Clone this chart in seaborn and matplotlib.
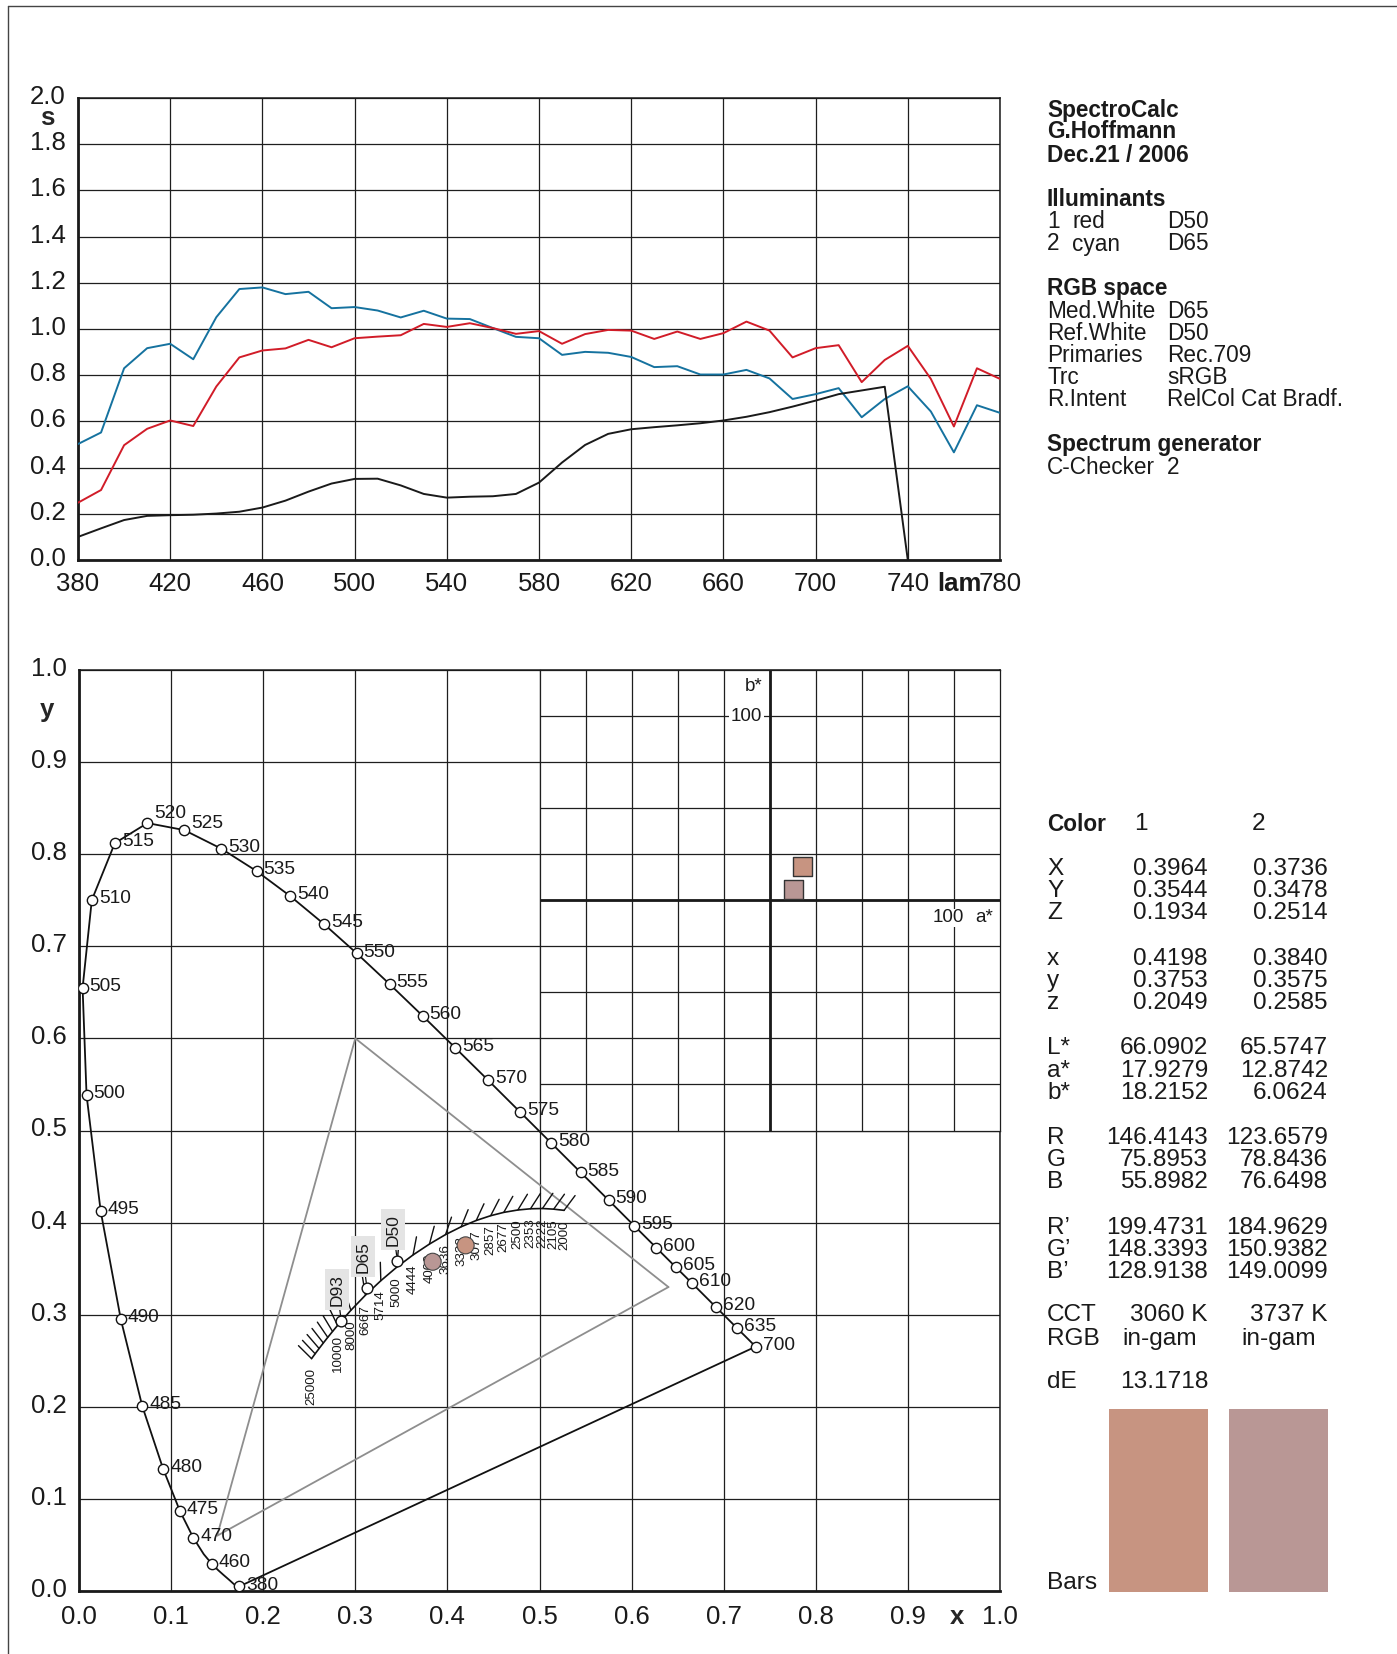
import numpy as np
import pandas as pd
import matplotlib
matplotlib.use("Agg")
import matplotlib.pyplot as plt
from matplotlib.lines import Line2D
from matplotlib.transforms import ScaledTranslation
import seaborn as sns

# ---------------- data ----------------
wavelength = list(range(380, 790, 10))
spec_red = [0.248, 0.303, 0.497, 0.568, 0.604, 0.580, 0.751, 0.877, 0.907, 0.916,
            0.953, 0.921, 0.960, 0.967, 0.973, 1.022, 1.009, 1.025, 1.004, 0.979,
            0.991, 0.936, 0.978, 0.996, 0.993, 0.957, 0.989, 0.957, 0.982, 1.032,
            0.993, 0.877, 0.917, 0.930, 0.770, 0.866, 0.927, 0.784, 0.578, 0.830, 0.784]
spec_cyan = [0.502, 0.552, 0.830, 0.917, 0.936, 0.869, 1.051, 1.173, 1.180, 1.151,
             1.161, 1.090, 1.095, 1.080, 1.050, 1.079, 1.045, 1.043, 1.004, 0.966,
             0.960, 0.888, 0.901, 0.897, 0.879, 0.835, 0.839, 0.803, 0.803, 0.823,
             0.786, 0.697, 0.718, 0.744, 0.618, 0.697, 0.752, 0.643, 0.466, 0.670, 0.637]
spec_black_wl = list(range(380, 750, 10))
spec_black = [0.100, 0.137, 0.173, 0.191, 0.194, 0.196, 0.201, 0.209, 0.227, 0.257,
              0.296, 0.331, 0.351, 0.352, 0.323, 0.286, 0.270, 0.274, 0.276, 0.286,
              0.335, 0.422, 0.498, 0.546, 0.566, 0.575, 0.583, 0.592, 0.604, 0.620,
              0.640, 0.664, 0.690, 0.718, 0.734, 0.750, 0.000]

locus_nm = list(range(380, 705, 5))
locus_x = [0.1741, 0.1740, 0.1738, 0.1736, 0.1733, 0.1730, 0.1726, 0.1721, 0.1714, 0.1703,
           0.1689, 0.1669, 0.1644, 0.1611, 0.1566, 0.1510, 0.1440, 0.1355, 0.1241, 0.1096,
           0.0913, 0.0687, 0.0454, 0.0235, 0.0082, 0.0039, 0.0139, 0.0389, 0.0743, 0.1142,
           0.1547, 0.1929, 0.2296, 0.2658, 0.3016, 0.3373, 0.3731, 0.4087, 0.4441, 0.4788,
           0.5125, 0.5448, 0.5752, 0.6029, 0.6270, 0.6482, 0.6658, 0.6801, 0.6915, 0.7006,
           0.7079, 0.7140, 0.7190, 0.7230, 0.7260, 0.7283, 0.7300, 0.7311, 0.7320, 0.7327,
           0.7334, 0.7340, 0.7344, 0.7346, 0.7347]
locus_y = [0.0050, 0.0050, 0.0049, 0.0049, 0.0048, 0.0048, 0.0048, 0.0048, 0.0051, 0.0058,
           0.0069, 0.0086, 0.0109, 0.0138, 0.0177, 0.0227, 0.0297, 0.0399, 0.0578, 0.0868,
           0.1327, 0.2007, 0.2950, 0.4127, 0.5384, 0.6548, 0.7502, 0.8120, 0.8338, 0.8262,
           0.8059, 0.7816, 0.7543, 0.7243, 0.6923, 0.6589, 0.6245, 0.5896, 0.5547, 0.5202,
           0.4866, 0.4544, 0.4242, 0.3965, 0.3725, 0.3514, 0.3340, 0.3197, 0.3083, 0.2993,
           0.2920, 0.2859, 0.2809, 0.2770, 0.2740, 0.2717, 0.2700, 0.2689, 0.2680, 0.2673,
           0.2666, 0.2660, 0.2656, 0.2654, 0.2653]
locus_labeled = [380, 460, 470, 475, 480, 485, 490, 495, 500, 505, 510, 515, 520, 525,
                 530, 535, 540, 545, 550, 555, 560, 565, 570, 575, 580, 585, 590, 595,
                 600, 605, 610, 620, 635, 700]

planck_T = [25000, 20000, 16667, 14286, 12500, 11111, 10000, 8000, 6667, 5714, 5000,
            4444, 4000, 3636, 3333, 3077, 2857, 2677, 2500, 2353, 2222, 2105, 2000]
planck_x = [0.2525, 0.2564, 0.2607, 0.2653, 0.2701, 0.2753, 0.2807, 0.2952, 0.3110, 0.3277,
            0.3450, 0.3627, 0.3805, 0.3980, 0.4150, 0.4313, 0.4470, 0.4612, 0.4765, 0.4902,
            0.5032, 0.5154, 0.5267]
planck_y = [0.2523, 0.2576, 0.2633, 0.2693, 0.2754, 0.2818, 0.2883, 0.3048, 0.3212, 0.3369,
            0.3516, 0.3649, 0.3767, 0.3870, 0.3955, 0.4023, 0.4075, 0.4111, 0.4137, 0.4150,
            0.4153, 0.4146, 0.4133]
planck_labeled = [25000, 10000, 8000, 6667, 5714, 5000, 4444, 4000, 3636, 3333, 3077,
                  2857, 2677, 2500, 2353, 2222, 2105, 2000]

srgb_x = [0.64, 0.30, 0.15, 0.64]
srgb_y = [0.33, 0.60, 0.06, 0.33]

white_names = ["D93", "D65", "D50"]
white_x = [0.2848, 0.3127, 0.3457]
white_y = [0.2932, 0.3290, 0.3585]

sample_names = ["1", "2"]
sample_x = [0.4198, 0.3840]
sample_y = [0.3753, 0.3575]
sample_a = [17.9279, 12.8742]
sample_b = [18.2152, 6.0624]
sample_R = [199.4731, 184.9629]
sample_G = [148.3393, 150.9382]
sample_B = [128.9138, 149.0099]

table_labels = ["X", "Y", "Z", "x", "y", "z", "L*", "a*", "b*",
                "R", "G", "B", "R\u2019", "G\u2019", "B\u2019"]
table_col1 = ["0.3964", "0.3544", "0.1934", "0.4198", "0.3753", "0.2049",
              "66.0902", "17.9279", "18.2152", "146.4143", "75.8953", "55.8982",
              "199.4731", "148.3393", "128.9138"]
table_col2 = ["0.3736", "0.3478", "0.2514", "0.3840", "0.3575", "0.2585",
              "65.5747", "12.8742", "6.0624", "123.6579", "78.8436", "76.6498",
              "184.9629", "150.9382", "149.0099"]
cct_values = ["3060 K", "3737 K"]
gamut_values = ["in-gam", "in-gam"]
delta_e = "13.1718"

# ---------------- style ----------------
sns.set_theme(style="white")
plt.rcParams["font.family"] = ["Liberation Sans", "DejaVu Sans"]
plt.rcParams["axes.unicode_minus"] = False

W, H = 1397, 1654
def fx(x):
    return x / W
def fy(y):
    return 1 - y / H

fig = plt.figure(figsize=(W / 100, H / 100), dpi=100)
fig.patch.set_facecolor("white")

GRID = "#1e1e1e"
TICK_FS = 18.5
up_shift = ScaledTranslation(0, 3.5 / 100, fig.dpi_scale_trans)

# ---------------- spectral chart ----------------
ax1 = fig.add_axes([fx(78), fy(560), 922 / W, 462 / H])
sns.lineplot(x=wavelength, y=spec_cyan, color="#15729f", lw=1.4, ax=ax1, zorder=3)
sns.lineplot(x=wavelength, y=spec_red, color="#d11c28", lw=1.4, ax=ax1, zorder=3)
sns.lineplot(x=spec_black_wl, y=spec_black, color="#1a1a1a", lw=1.4, ax=ax1, zorder=3)
ax1.set_xlim(380, 780)
ax1.set_ylim(0, 2)
xt = list(range(380, 781, 40))
ax1.set_xticks(xt)
ax1.set_xticklabels([str(v) for v in xt])
yt = np.round(np.arange(0, 2.01, 0.2), 1)
ax1.set_yticks(yt)
ax1.set_yticklabels([f"{v:.1f}" for v in yt])
ax1.grid(True, color=GRID, lw=0.9)
ax1.tick_params(length=0, labelsize=TICK_FS, colors="#1a1a1a")
ax1.tick_params(axis="x", pad=8.5)
ax1.tick_params(axis="y", pad=9)
for lab in ax1.get_yticklabels():
    lab.set_transform(lab.get_transform() + up_shift)
ax1.set_xlabel("")
ax1.set_ylabel("")
for s in ax1.spines.values():
    s.set_color("#1a1a1a")
    s.set_linewidth(1.1)
ax1.spines["bottom"].set_linewidth(2.0)
ax1.spines["left"].set_linewidth(2.0)
fig.text(fx(47), fy(118), "s", fontsize=TICK_FS, fontweight="bold", ha="center", va="center")
fig.text(fx(959), fy(584), "lam", fontsize=TICK_FS, fontweight="bold", ha="center", va="center",
         color="#1a1a1a")

# ---------------- chromaticity chart ----------------
ax2 = fig.add_axes([fx(79), fy(1591), 921 / W, 921 / H])
ax2.set_xlim(0, 1)
ax2.set_ylim(0, 1)
t = np.round(np.arange(0, 1.01, 0.1), 1)
ax2.set_xticks(t)
ax2.set_yticks(t)
ax2.set_xticklabels([f"{v:.1f}" for v in t])
ax2.set_yticklabels([f"{v:.1f}" for v in t])
ax2.grid(True, color=GRID, lw=0.9, zorder=0)
ax2.set_axisbelow(True)
ax2.tick_params(length=0, labelsize=TICK_FS, colors="#1a1a1a")
ax2.tick_params(axis="x", pad=10)
ax2.tick_params(axis="y", pad=9)
for lab in ax2.get_yticklabels():
    lab.set_transform(lab.get_transform() + up_shift)
for s in ax2.spines.values():
    s.set_color("#1a1a1a")
    s.set_linewidth(1.1)
ax2.spines["bottom"].set_linewidth(2.0)
ax2.spines["left"].set_linewidth(2.0)
fig.text(fx(47), fy(710), "y", fontsize=TICK_FS, fontweight="bold", ha="center", va="center")
fig.text(fx(957), fy(1617), "x", fontsize=TICK_FS, fontweight="bold", ha="center", va="center")

# Lab inset (upper right quarter)
axi = ax2.inset_axes([0.5, 0.5, 0.5, 0.5])
axi.set_xlim(-125, 125)
axi.set_ylim(-125, 125)
g = np.arange(-100, 101, 25)
axi.set_xticks(g)
axi.set_yticks(g)
axi.set_xticklabels([])
axi.set_yticklabels([])
axi.tick_params(length=0)
axi.grid(True, color=GRID, lw=0.9)
axi.set_facecolor("white")
for s in axi.spines.values():
    s.set_color(GRID)
    s.set_linewidth(0.9)
axi.axhline(0, color="#1a1a1a", lw=2.0, zorder=2)
axi.axvline(0, color="#1a1a1a", lw=2.0, zorder=2)
axi.text(-4, 100, "100", fontsize=13.5, ha="right", va="center", color="#1a1a1a",
         bbox=dict(boxstyle="square,pad=0.1", fc="white", ec="none"), zorder=4)
axi.text(-4, 116, "b*", fontsize=13.5, ha="right", va="center", color="#1a1a1a", zorder=4)
axi.text(97, -5, "100", fontsize=13.5, ha="center", va="top", color="#1a1a1a",
         bbox=dict(boxstyle="square,pad=0.05", fc="white", ec="none"), zorder=4)
axi.text(121, -5, "a*", fontsize=13.5, ha="right", va="top", color="#1a1a1a", zorder=4)

swatch = [(r / 255, gg / 255, b / 255) for r, gg, b in zip(sample_R, sample_G, sample_B)]
pal = dict(zip(sample_names, swatch))
sns.scatterplot(x=sample_a, y=sample_b, hue=sample_names, palette=pal, marker="s", s=190,
                edgecolor="#333333", linewidth=1.0, legend=False, ax=axi, zorder=5)

# spectral locus + purple line
sns.lineplot(x=locus_x, y=locus_y, sort=False, estimator=None, color="#111111", lw=1.3,
             ax=ax2, zorder=3)
ax2.plot([locus_x[0], locus_x[-1]], [locus_y[0], locus_y[-1]], color="#111111", lw=1.3, zorder=3)
idx = [locus_nm.index(n) for n in locus_labeled]
lx = [locus_x[i] for i in idx]
ly = [locus_y[i] for i in idx]
sns.scatterplot(x=lx, y=ly, s=55, color="white", edgecolor="#111111", linewidth=1.0,
                legend=False, ax=ax2, zorder=5)
label_dy = {520: 6, 525: 4}
for n, x, y in zip(locus_labeled, lx, ly):
    ax2.annotate(str(n), (x, y), xytext=(5, 1 + label_dy.get(n, 0)), textcoords="offset points",
                 fontsize=13.8, ha="left", va="center", color="#1a1a1a", zorder=6)

# sRGB triangle
sns.lineplot(x=srgb_x, y=srgb_y, sort=False, estimator=None, color="#8e8e8e", lw=1.3,
             ax=ax2, zorder=2)

# Planckian locus
sns.lineplot(x=planck_x, y=planck_y, sort=False, estimator=None, color="#111111", lw=1.2,
             ax=ax2, zorder=3)
px = np.array(planck_x)
py = np.array(planck_y)
den = -2 * px + 12 * py + 3
u = 4 * px / den
v = 6 * py / den
du = -np.gradient(u)
dv = -np.gradient(v)
nu, nv = -dv, du
flip = nv < 0
nu[flip] *= -1
nv[flip] *= -1
nrm = np.hypot(nu, nv)
u2 = u + 0.01 * nu / nrm
v2 = v + 0.01 * nv / nrm
d2 = 2 * u2 - 8 * v2 + 4
x2 = 3 * u2 / d2
y2 = 2 * v2 / d2
ex, ey = x2 - px, y2 - py
el = np.hypot(ex, ey)
tick_len = 0.02
for xa, ya, dx, dy, L in zip(px, py, ex, ey, el):
    ax2.plot([xa, xa + tick_len * dx / L], [ya, ya + tick_len * dy / L], color="#111111",
             lw=1.0, zorder=3)
for T, xa, ya in zip(planck_T, planck_x, planck_y):
    if T in planck_labeled:
        ax2.annotate(str(T), (xa, ya), xytext=(0, -7), textcoords="offset points", rotation=90,
                     fontsize=9.6, ha="center", va="top", color="#1a1a1a", zorder=4)

# white points
sns.scatterplot(x=white_x, y=white_y, s=60, color="white", edgecolor="#111111", linewidth=1.0,
                legend=False, ax=ax2, zorder=6)
for name, xa, ya in zip(white_names, white_x, white_y):
    ax2.annotate(name, (xa, ya), xytext=(-3, 11), textcoords="offset points", rotation=90,
                 fontsize=12.5, ha="center", va="bottom", color="#1a1a1a",
                 bbox=dict(boxstyle="square,pad=0.25", fc="#e4e4e4", ec="none"),
                 arrowprops=dict(arrowstyle="-", color="#111111", lw=0.9, shrinkA=0, shrinkB=4),
                 zorder=6)

# sample chromaticities
sns.scatterplot(x=sample_x, y=sample_y, hue=sample_names, palette=pal, s=150,
                edgecolor="#444444", linewidth=0.8, legend=False, ax=ax2, zorder=7)

# ---------------- right text panel ----------------
FS = 16.3
NUM_FS = 17.6
def txt(x, y, s, bold=False, ha="left", size=FS):
    fig.text(fx(x), fy(y), s, fontsize=size, fontweight="bold" if bold else "normal",
             ha=ha, va="center", color="#1a1a1a")

txt(1047, 110, "SpectroCalc", True)
txt(1047, 132, "G.Hoffmann", True)
txt(1047, 155, "Dec.21 / 2006", True)
txt(1047, 199, "Illuminants", True)
txt(1047, 222, "1")
txt(1072, 222, "red")
txt(1167, 222, "D50")
txt(1047, 244, "2")
txt(1072, 244, "cyan")
txt(1167, 244, "D65")
txt(1047, 289, "RGB space", True)
rgb_rows = [("Med.White", "D65"), ("Ref.White", "D50"), ("Primaries", "Rec.709"),
            ("Trc", "sRGB"), ("R.Intent", "RelCol Cat Bradf.")]
for k, (a, b) in enumerate(rgb_rows):
    txt(1047, 311 + 22 * k, a)
    txt(1167, 311 + 22 * k, b)
txt(1047, 445, "Spectrum generator", True)
txt(1047, 467, "C-Checker")
txt(1167, 467, "2")

# colour table
txt(1047, 824, "Color", True)
txt(1134, 824, "1", size=NUM_FS)
txt(1252, 824, "2", size=NUM_FS)
for k, (lab, c1, c2) in enumerate(zip(table_labels, table_col1, table_col2)):
    yy = 869 + (k // 3) * 89.7 + (k % 3) * 22.2
    txt(1047, yy, lab, size=NUM_FS)
    txt(1208, yy, c1, ha="right", size=NUM_FS)
    txt(1328, yy, c2, ha="right", size=NUM_FS)
txt(1047, 1315, "CCT", size=NUM_FS)
txt(1208, 1315, cct_values[0], ha="right", size=NUM_FS)
txt(1328, 1315, cct_values[1], ha="right", size=NUM_FS)
txt(1047, 1339, "RGB", size=NUM_FS)
txt(1197, 1339, gamut_values[0], ha="right", size=NUM_FS)
txt(1316, 1339, gamut_values[1], ha="right", size=NUM_FS)
txt(1047, 1382, "dE", size=NUM_FS)
txt(1208, 1382, delta_e, ha="right", size=NUM_FS)
txt(1047, 1583, "Bars", size=NUM_FS)

# colour bars
ax3 = fig.add_axes([fx(1109), fy(1592), 219 / W, 183 / H])
ax3.bar([0, 1], [1, 1], width=0.825, color=swatch, edgecolor="none")
ax3.set_xlim(-0.4125, 1.4125)
ax3.set_ylim(0, 1)
ax3.axis("off")

# outer frame lines
fig.add_artist(Line2D([fx(8), fx(8)], [fy(6), 0], color="#444444", lw=1.0))
fig.add_artist(Line2D([fx(8), 1], [fy(6), fy(6)], color="#444444", lw=1.0))

fig.savefig("out.png", dpi=100, facecolor="white")
